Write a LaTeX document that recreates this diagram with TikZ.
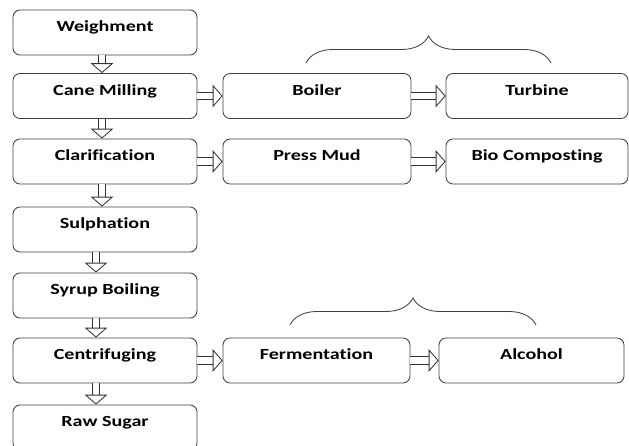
\documentclass[tikz,border=0pt]{standalone}
\usepackage{fontspec}
\newfontfamily\flowfont[FakeStretch=1.3, Ligatures=NoCommon]{Carlito}
\usetikzlibrary{positioning,calc,arrows.meta,decorations.pathreplacing}

\tikzset{
  stage/.style={draw=black!75, line width=0.6pt, rounded corners=5pt,
    minimum width=4.6cm, inner xsep=0pt, inner ysep=0pt,
    text height=0.55cm, text depth=0.575cm,
    font=\flowfont\bfseries\fontsize{11}{13}\selectfont},
  flow/.style={draw=black!80, line width=0.6pt, double, double distance=4.5pt,
    -{Triangle[open, length=7pt, width=16pt]}},
  grp/.style={draw=black!75, line width=0.6pt, decorate, decoration={brace, amplitude=0.675cm}}
}

\begin{document}
\begin{tikzpicture}
\useasboundingbox (0,0) rectangle (15.725,-11.15);

% main line
\node[stage] (weigh)  at (2.625,-0.8125) {Weighment};
\node[stage] (cane)   at (2.625,-2.4)    {Cane Milling};
\node[stage] (clar)   at (2.625,-4.0375) {Clarification};
\node[stage] (sulph)  at (2.625,-5.7375) {Sulphation};
\node[stage] (syrup)  at (2.625,-7.3875) {Syrup Boiling};
\node[stage] (centri) at (2.625,-9.0125) {Centrifuging};
\node[stage] (raw)    at (2.625,-10.6875) {Raw Sugar};

% by-products
\node[stage, minimum width=4.7cm]   (boiler) at (7.925,-2.4)     {Boiler};
\node[stage, minimum width=4.55cm]  (turb)   at (13.425,-2.4)    {Turbine};
\node[stage, minimum width=4.7cm]   (pmud)   at (7.925,-4.0375)  {Press Mud};
\node[stage, minimum width=4.55cm]  (bio)    at (13.425,-4.0375) {Bio Composting};
\node[stage, minimum width=4.675cm] (ferm)   at (7.9125,-9.0125) {Fermentation};
\node[stage, minimum width=4.625cm] (alc)    at (13.2875,-9.0125) {Alcohol};

\draw[flow] ([xshift=-0.075cm]weigh.south) -- ([xshift=-0.075cm]cane.north);
\draw[flow] ([xshift=-0.075cm]cane.south) -- ([xshift=-0.075cm]clar.north);
\draw[flow] ([xshift=-0.075cm]clar.south) -- ([xshift=-0.075cm]sulph.north);
\draw[flow] ([xshift=-0.225cm]sulph.south) -- ([xshift=-0.225cm]syrup.north);
\draw[flow] ([xshift=-0.225cm]syrup.south) -- ([xshift=-0.225cm]centri.north);
\draw[flow] ([xshift=-0.225cm]centri.south) -- ([xshift=-0.225cm]raw.north);

\draw[flow] (cane) -- (boiler);
\draw[flow] (boiler) -- (turb);
\draw[flow] (clar) -- (pmud);
\draw[flow] (pmud) -- (bio);
\draw[flow] (centri) -- (ferm);
\draw[flow] (ferm) -- (alc);

% braces
\coordinate (steamL) at (7.65,-1.575);
\coordinate (steamR) at (13.775,-1.575);
\coordinate (spiritL) at (7.25,-8.125);
\coordinate (spiritR) at (13.4,-8.125);
\draw[grp] (steamL) -- (steamR);
\draw[grp] (spiritL) -- (spiritR);
\end{tikzpicture}
\end{document}
